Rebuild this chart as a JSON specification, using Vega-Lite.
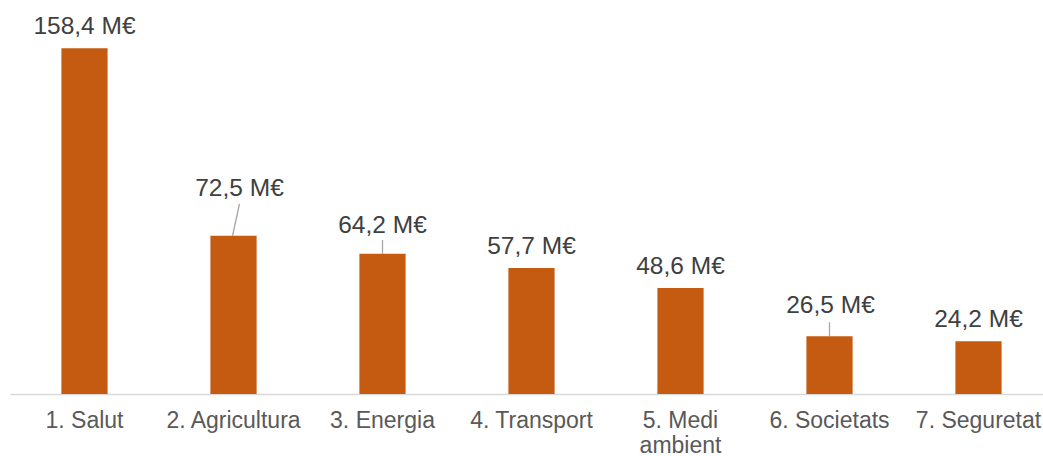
{
  "$schema": "https://vega.github.io/schema/vega-lite/v6.json",
  "width": 1043,
  "height": 394,
  "autosize": {"type": "none"},
  "padding": {"left": 10, "top": 0, "right": 0, "bottom": 62},
  "background": "white",
  "config": {"view": {"stroke": null}, "font": "Liberation Sans"},
  "data": {
    "values": [
      {"category": "1. Salut", "value": 158.4, "label": "158,4 M€"},
      {"category": "2. Agricultura", "value": 72.5, "label": "72,5 M€"},
      {"category": "3. Energia", "value": 64.2, "label": "64,2 M€"},
      {"category": "4. Transport", "value": 57.7, "label": "57,7 M€"},
      {"category": "5. Medi ambient", "value": 48.6, "label": "48,6 M€"},
      {"category": "6. Societats", "value": 26.5, "label": "26,5 M€"},
      {"category": "7. Seguretat", "value": 24.2, "label": "24,2 M€"}
    ]
  },
  "encoding": {
    "x": {
      "field": "category",
      "type": "nominal",
      "sort": null,
      "scale": {"paddingInner": 0.69, "paddingOuter": 0.345},
      "axis": {
        "title": null,
        "labelAngle": 0,
        "labelFont": "Liberation Sans",
        "labelFontSize": 23,
        "labelColor": "#595959",
        "labelPadding": 15,
        "labelLineHeight": 25,
        "labelExpr": "datum.value == '5. Medi ambient' ? ['5. Medi', 'ambient'] : datum.value",
        "ticks": false,
        "domainColor": "#D9D9D9",
        "domainWidth": 1.3,
        "labelOverlap": false,
        "labelBound": false
      }
    },
    "y": {
      "field": "value",
      "type": "quantitative",
      "scale": {"domain": [0, 180.5], "nice": false},
      "axis": null
    }
  },
  "layer": [
    {"mark": {"type": "bar", "color": "#C55A11"}},
    {
      "transform": [{"filter": "indexof(['2. Agricultura','3. Energia','6. Societats'], datum.category) < 0"}],
      "mark": {"type": "text", "dy": -14, "baseline": "alphabetic", "fontSize": 24.5, "color": "#404040", "font": "Liberation Sans"},
      "encoding": {"text": {"field": "label"}}
    },
    {
      "transform": [{"filter": "datum.category == '2. Agricultura'"}],
      "mark": {"type": "text", "dy": -40, "dx": 6, "baseline": "alphabetic", "fontSize": 24.5, "color": "#404040", "font": "Liberation Sans"},
      "encoding": {"text": {"field": "label"}}
    },
    {
      "transform": [{"filter": "datum.category == '3. Energia'"}],
      "mark": {"type": "text", "dy": -21, "baseline": "alphabetic", "fontSize": 24.5, "color": "#404040", "font": "Liberation Sans"},
      "encoding": {"text": {"field": "label"}}
    },
    {
      "transform": [{"filter": "datum.category == '6. Societats'"}],
      "mark": {"type": "text", "dy": -23, "dx": 1, "baseline": "alphabetic", "fontSize": 24.5, "color": "#404040", "font": "Liberation Sans"},
      "encoding": {"text": {"field": "label"}}
    },
    {
      "transform": [{"filter": "datum.category == '2. Agricultura'"}],
      "mark": {"type": "rule", "color": "#A6A6A6", "strokeWidth": 1.3, "xOffset": -1, "x2Offset": 6, "y2Offset": -32},
      "encoding": {"x2": {"field": "category"}, "y2": {"field": "value"}}
    },
    {
      "transform": [{"filter": "datum.category == '3. Energia' || datum.category == '6. Societats'"}],
      "mark": {"type": "rule", "color": "#A6A6A6", "strokeWidth": 1.3, "y2Offset": -14},
      "encoding": {"x2": {"field": "category"}, "y2": {"field": "value"}}
    }
  ]
}
